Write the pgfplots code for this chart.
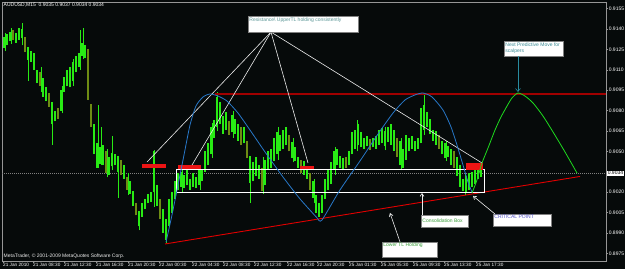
\documentclass[border=0pt]{standalone}
\usepackage{fontspec}
\setmainfont{Liberation Sans}
\usepackage{pgfplots}
\pgfplotsset{compat=1.18}
\usepackage{pgfplotstable}
\usetikzlibrary{arrows.meta}
\definecolor{bg}{RGB}{6,10,10}
\definecolor{barg}{RGB}{40,235,20}
\definecolor{baro}{RGB}{110,140,20}
\definecolor{bluec}{RGB}{40,120,200}
\definecolor{greenc}{RGB}{30,220,30}
\definecolor{tlred}{RGB}{225,0,0}
\definecolor{blk}{RGB}{235,20,20}
\definecolor{resred}{RGB}{160,0,0}
\definecolor{axgray}{RGB}{150,150,150}
\definecolor{txt1}{RGB}{90,150,150}
\definecolor{txt2}{RGB}{60,140,150}
\definecolor{txt3}{RGB}{60,160,60}
\definecolor{txt4}{RGB}{80,80,200}
\definecolor{arrt}{RGB}{40,140,160}
\newcommand\tf{\fontsize{5}{6}\selectfont}

\pgfplotstableread{
x lo hi d
4 0.9126 0.9134 1
7 0.9128 0.9136 1
10 0.9131 0.9138 1
13 0.9132 0.9139 0
16 0.9130 0.9137 1
19 0.9132 0.9141 1
22 0.9133 0.9140 1
25 0.9123 0.9134 0
28 0.9117 0.9127 1
31 0.9116 0.9124 1
34 0.9110 0.9122 1
37 0.9100 0.9110 1
40 0.9098 0.9108 0
43 0.9090 0.9104 1
46 0.9087 0.9097 1
49 0.9083 0.9093 0
52 0.9070 0.9086 1
55 0.9072 0.9080 1
58 0.9074 0.9082 0
61 0.9080 0.9095 1
64 0.9094 0.9105 1
67 0.9098 0.9110 1
70 0.9097 0.9112 1
73 0.9102 0.9116 1
76 0.9108 0.9120 1
79 0.9112 0.9122 1
82 0.9120 0.9130 1
85 0.9119 0.9128 1
88 0.9088 0.9125 0
91 0.9068 0.9085 0
94 0.9048 0.9070 1
97 0.9038 0.9056 1
100 0.9041 0.9053 1
103 0.9040 0.9055 1
106 0.9034 0.9050 0
109 0.9033 0.9046 1
112 0.9039 0.9049 1
115 0.9040 0.9048 1
118 0.9035 0.9047 1
121 0.9033 0.9044 0
124 0.9030 0.9040 1
127 0.9022 0.9031 0
130 0.9019 0.9028 1
133 0.9010 0.9021 1
136 0.9003 0.9012 0
139 0.8995 0.9006 1
142 0.9002 0.9012 1
145 0.9008 0.9015 1
148 0.9012 0.9019 1
151 0.9013 0.9020 1
154 0.9020 0.9050 1
157 0.9010 0.9025 1
160 0.9000 0.9015 0
163 0.8990 0.9008 1
166 0.8985 0.9000 1
169 0.8995 0.9015 1
172 0.9005 0.9020 1
175 0.9015 0.9028 1
178 0.9022 0.9034 1
181 0.9024 0.9035 1
184 0.9023 0.9033 1
187 0.9025 0.9036 1
190 0.9022 0.9030 1
193 0.9024 0.9034 1
196 0.9023 0.9031 1
199 0.9025 0.9036 1
202 0.9028 0.9036 1
205 0.9035 0.9050 1
208 0.9040 0.9056 1
211 0.9048 0.9068 1
214 0.9060 0.9073 1
217 0.9068 0.9090 1
220 0.9070 0.9086 1
223 0.9063 0.9076 1
226 0.9066 0.9079 1
229 0.9062 0.9072 0
232 0.9064 0.9077 1
235 0.9063 0.9074 1
238 0.9058 0.9070 1
241 0.9055 0.9068 0
244 0.9056 0.9068 1
247 0.9045 0.9058 0
250 0.9027 0.9047 1
253 0.9028 0.9042 1
256 0.9032 0.9046 1
259 0.9030 0.9040 1
262 0.9021 0.9038 0
265 0.9025 0.9044 1
268 0.9037 0.9050 1
271 0.9038 0.9052 1
274 0.9043 0.9060 1
277 0.9048 0.9064 1
280 0.9050 0.9062 1
283 0.9052 0.9066 1
286 0.9055 0.9068 1
289 0.9050 0.9062 0
292 0.9045 0.9057 1
295 0.9043 0.9053 1
298 0.9038 0.9046 1
301 0.9034 0.9044 0
304 0.9033 0.9043 1
307 0.9030 0.9038 1
310 0.9022 0.9034 0
313 0.9016 0.9028 1
316 0.9005 0.9018 1
319 0.9002 0.9012 1
322 0.9005 0.9018 1
325 0.9015 0.9030 1
328 0.9022 0.9036 1
331 0.9026 0.9042 1
334 0.9036 0.9050 1
337 0.9040 0.9052 1
340 0.9038 0.9047 1
343 0.9036 0.9045 1
346 0.9038 0.9046 0
349 0.9040 0.9050 1
352 0.9048 0.9064 1
355 0.9052 0.9066 1
358 0.9055 0.9070 1
361 0.9053 0.9064 1
364 0.9052 0.9060 1
367 0.9054 0.9061 1
370 0.9051 0.9059 0
373 0.9053 0.9060 1
376 0.9052 0.9061 1
379 0.9055 0.9066 1
382 0.9056 0.9067 1
385 0.9054 0.9065 1
388 0.9057 0.9068 1
391 0.9055 0.9070 1
394 0.9050 0.9066 1
397 0.9046 0.9060 0
400 0.9040 0.9058 1
403 0.9038 0.9052 1
406 0.9044 0.9062 1
409 0.9050 0.9060 1
412 0.9052 0.9061 1
415 0.9050 0.9058 1
418 0.9052 0.9060 1
421 0.9056 0.9082 1
424 0.9066 0.9084 1
427 0.9068 0.9079 1
430 0.9063 0.9074 1
433 0.9058 0.9066 1
436 0.9055 0.9065 1
439 0.9052 0.9062 0
442 0.9048 0.9058 1
445 0.9045 0.9056 1
448 0.9046 0.9054 1
451 0.9040 0.9052 1
454 0.9038 0.9050 0
457 0.9032 0.9046 1
460 0.9024 0.9040 1
463 0.9021 0.9030 1
466 0.9020 0.9032 1
469 0.9022 0.9034 1
472 0.9024 0.9035 1
475 0.9026 0.9036 1
478 0.9030 0.9038 1
481 0.9031 0.9039 1
}\bars

\pgfplotstableread{
x lo hi
5 0.9124 0.9137
11 0.9129 0.9141
22 0.9128 0.9144
28 0.9102 0.9120
41 0.9094 0.9112
52 0.9055 0.9075
62 0.9078 0.9098
73 0.9098 0.9118
80 0.9110 0.9139
83 0.9118 0.9141
98 0.9038 0.9084
101 0.9040 0.9068
107 0.9031 0.9052
112 0.9036 0.9061
118 0.9016 0.9040
128 0.9018 0.9034
139 0.8992 0.9000
154 0.9009 0.9051
166 0.8983 0.8995
182 0.9020 0.9037
200 0.9022 0.9038
212 0.9045 0.9071
217 0.9065 0.9094
233 0.9060 0.9080
250 0.9012 0.9030
263 0.9019 0.9046
278 0.9044 0.9068
293 0.9042 0.9060
314 0.9012 0.9030
335 0.9033 0.9053
357 0.9050 0.9073
385 0.9051 0.9068
401 0.9036 0.9060
424 0.9062 0.9093
446 0.9043 0.9058
465 0.9018 0.9034
}\wicks

\begin{document}
\begin{tikzpicture}
\useasboundingbox (0pt,0pt) rectangle (625pt,269pt);
\fill[bg] (0pt,0pt) rectangle (625pt,269pt);
\begin{axis}[
  at={(2pt,8pt)}, anchor=south west,
  scale only axis, width=604pt, height=259pt,
  xmin=2, xmax=606, ymin=0.896949, ymax=0.915978,
  axis line style={draw=axgray, line width=0.6pt},
  xtick pos=bottom, ytick pos=right,
  tick align=outside, major tick length=2pt,
  tick style={draw=axgray, line width=0.5pt},
  xtick={3,33,64,96,128,159,192,223,254,287,317,349,381,413,444,476},
  xticklabels={21 Jan 2010,21 Jan 08:30,21 Jan 12:30,21 Jan 16:30,21 Jan 20:30,22 Jan 00:30,22 Jan 04:30,22 Jan 08:30,22 Jan 12:30,22 Jan 16:30,22 Jan 20:30,25 Jan 01:30,25 Jan 05:30,25 Jan 09:30,25 Jan 13:30,25 Jan 17:30},
  xticklabel style={anchor=north west, font=\fontsize{4.7}{5}\selectfont, text=white, inner sep=0.5pt, xshift=-0.5pt},
  ytick={0.8975,0.8990,0.9005,0.9020,0.9050,0.9065,0.9080,0.9095,0.9110,0.9125,0.9140,0.9155},
  yticklabels={0.8975,0.8990,0.9005,0.9020,0.9050,0.9065,0.9080,0.9095,0.9110,0.9125,0.9140,0.9155},
  yticklabel style={anchor=west, font=\tf, text=white, inner sep=0.6pt},
]
% current price line
\addplot[draw=gray, line width=0.5pt, dash pattern=on 1pt off 1pt] coordinates {(2,0.9034) (606,0.9034)};
% bars
\addplot[draw=none, mark=none, forget plot,
  error bars/.cd, y dir=plus, y explicit, error mark=none,
  error bar style={line width=0.6pt, draw=barg}]
  table[x=x, y=lo, y error expr=\thisrow{hi}-\thisrow{lo}] {\wicks};
\addplot[draw=none, mark=none, forget plot, restrict expr to domain={\thisrow{d}}{0.5:1.5},
  error bars/.cd, y dir=plus, y explicit, error mark=none,
  error bar style={line width=2.2pt, draw=barg}]
  table[x=x, y=lo, y error expr=\thisrow{hi}-\thisrow{lo}] {\bars};
\addplot[draw=none, mark=none, forget plot, restrict expr to domain={\thisrow{d}}{-0.5:0.5},
  error bars/.cd, y dir=plus, y explicit, error mark=none,
  error bar style={line width=2.2pt, draw=baro}]
  table[x=x, y=lo, y error expr=\thisrow{hi}-\thisrow{lo}] {\bars};
% resistance line
\addplot[draw=resred, line width=1.6pt, dash pattern=on 1.5pt off 0.5pt] coordinates {(215,0.90922) (606,0.90922)};
% lower trend line
\addplot[draw=tlred, line width=0.9pt] coordinates {(165,0.89820) (580,0.90316)};
% consolidation box
\addplot[draw=white, line width=0.9pt] coordinates {(176,0.90364) (484,0.90364) (484,0.90195) (176,0.90195) (176,0.90364)};
% red blocks
\addplot[fill=blk, draw=none] coordinates {(142,0.90378) (166,0.90378) (166,0.90408) (142,0.90408)} -- cycle;
\addplot[fill=blk, draw=none] coordinates {(178,0.90371) (201,0.90371) (201,0.90400) (178,0.90400)} -- cycle;
\addplot[fill=blk, draw=none] coordinates {(300,0.90371) (314,0.90371) (314,0.90393) (300,0.90393)} -- cycle;
\addplot[fill=blk, draw=none] coordinates {(466,0.90364) (483,0.90364) (483,0.90415) (466,0.90415)} -- cycle;
% white fan lines
\addplot[draw=white!85!gray, line width=0.6pt] coordinates {(271,0.91377) (147,0.90422)};
\addplot[draw=white!85!gray, line width=0.6pt] coordinates {(271,0.91377) (192,0.90400)};
\addplot[draw=white!85!gray, line width=0.6pt] coordinates {(271,0.91377) (308,0.90415)};
\addplot[draw=white!85!gray, line width=0.6pt] coordinates {(271,0.91377) (482,0.90415)};
% blue curve
\addplot[draw=bluec, line width=0.8pt, smooth, tension=0.4] coordinates {
(166,0.89834) (172,0.90033) (178,0.90253) (184,0.90474) (190,0.90694) (196,0.90834) (203,0.90900) (210,0.90922)
(218,0.90907) (227,0.90870) (238,0.90782) (250,0.90657) (265,0.90496) (283,0.90312) (300,0.90151) (318,0.90004)};
\addplot[draw=bluec, line width=0.8pt, smooth, tension=0.4] coordinates {
(318,0.90004) (322,0.89996) (340,0.90217) (360,0.90430) (378,0.90628) (393,0.90782) (405,0.90878) (415,0.90915) (423,0.90929)
(432,0.90900) (443,0.90804) (451,0.90680) (457,0.90547) (463,0.90400) (468,0.90275) (472,0.90202)};
% green curve
\addplot[draw=greenc, line width=0.8pt, smooth, tension=0.4] coordinates {
(472,0.90195) (477,0.90290) (482,0.90415) (488,0.90525) (495,0.90657) (501,0.90753) (507,0.90833) (512,0.90893) (518,0.90929)
(525,0.90907) (533,0.90856) (543,0.90760) (553,0.90643) (565,0.90496) (577,0.90341)};
% text boxes
\draw[fill=white, draw=gray, line width=0.4pt] (axis cs:248,0.91495) rectangle (axis cs:358,0.91377);
\node[anchor=north west, inner sep=1.2pt, text=txt1, font=\tf] at (axis cs:248,0.91495) {Resistance\textbackslash{} UpperTL holding consistently};
\draw[fill=white, draw=gray, line width=0.4pt] (axis cs:504,0.91311) rectangle (axis cs:563,0.91201);
\node[anchor=north west, inner sep=1.2pt, text=txt2, font=\tf, align=left] at (axis cs:504,0.91311) {Next Predictive Move for\\scalpers};
\draw[draw=arrt, line width=0.6pt, -{Straight Barb[length=3pt,width=5pt]}] (axis cs:518,0.91201) -- (axis cs:518,0.90937);
\draw[fill=white, draw=gray, line width=0.4pt] (axis cs:421,0.90033) rectangle (axis cs:468,0.89945);
\node[anchor=west, inner sep=1.2pt, text=txt3, font=\tf] at (axis cs:421,0.89992) {Consolidation Box};
\draw[draw=white!85!gray, line width=0.6pt, -{Straight Barb[length=3pt,width=4pt]}] (axis cs:422,0.90033) -- (axis cs:422,0.90195);
\draw[fill=white, draw=gray, line width=0.4pt] (axis cs:493,0.90040) rectangle (axis cs:551,0.89952);
\node[anchor=north west, inner sep=1.2pt, text=txt4, font=\tf] at (axis cs:493,0.90040) {CRITICAL POINT};
\draw[draw=white!85!gray, line width=0.6pt, -{Straight Barb[length=3pt,width=4pt]}] (axis cs:495,0.90040) -- (axis cs:473,0.90173);
\draw[fill=white, draw=gray, line width=0.4pt] (axis cs:382,0.89835) rectangle (axis cs:437,0.89724);
\node[anchor=north west, inner sep=1.2pt, text=txt3, font=\tf] at (axis cs:382,0.89835) {Lower TL Holding};
\draw[draw=white!85!gray, line width=0.6pt, -{Straight Barb[length=3pt,width=4pt]}] (axis cs:400,0.89835) -- (axis cs:390,0.90048);
% header texts
\node[anchor=west, inner sep=0.5pt, text=white, font=\tf] at (axis cs:3,0.91572) {AUDUSD,M15\ \ 0.9035 0.9037 0.9034 0.9034};
\node[anchor=west, inner sep=0.5pt, text=white!85!gray, font=\tf] at (axis cs:3,0.89732) {MetaTrader, © 2001-2009 MetaQuotes Software Corp.};
\coordinate (cp) at (axis cs:606,0.9034);
\end{axis}
\node[anchor=west, fill=white, text=black, inner sep=0.6pt, font=\tf, xshift=1pt] at (cp) {0.9034};
\end{tikzpicture}
\end{document}
